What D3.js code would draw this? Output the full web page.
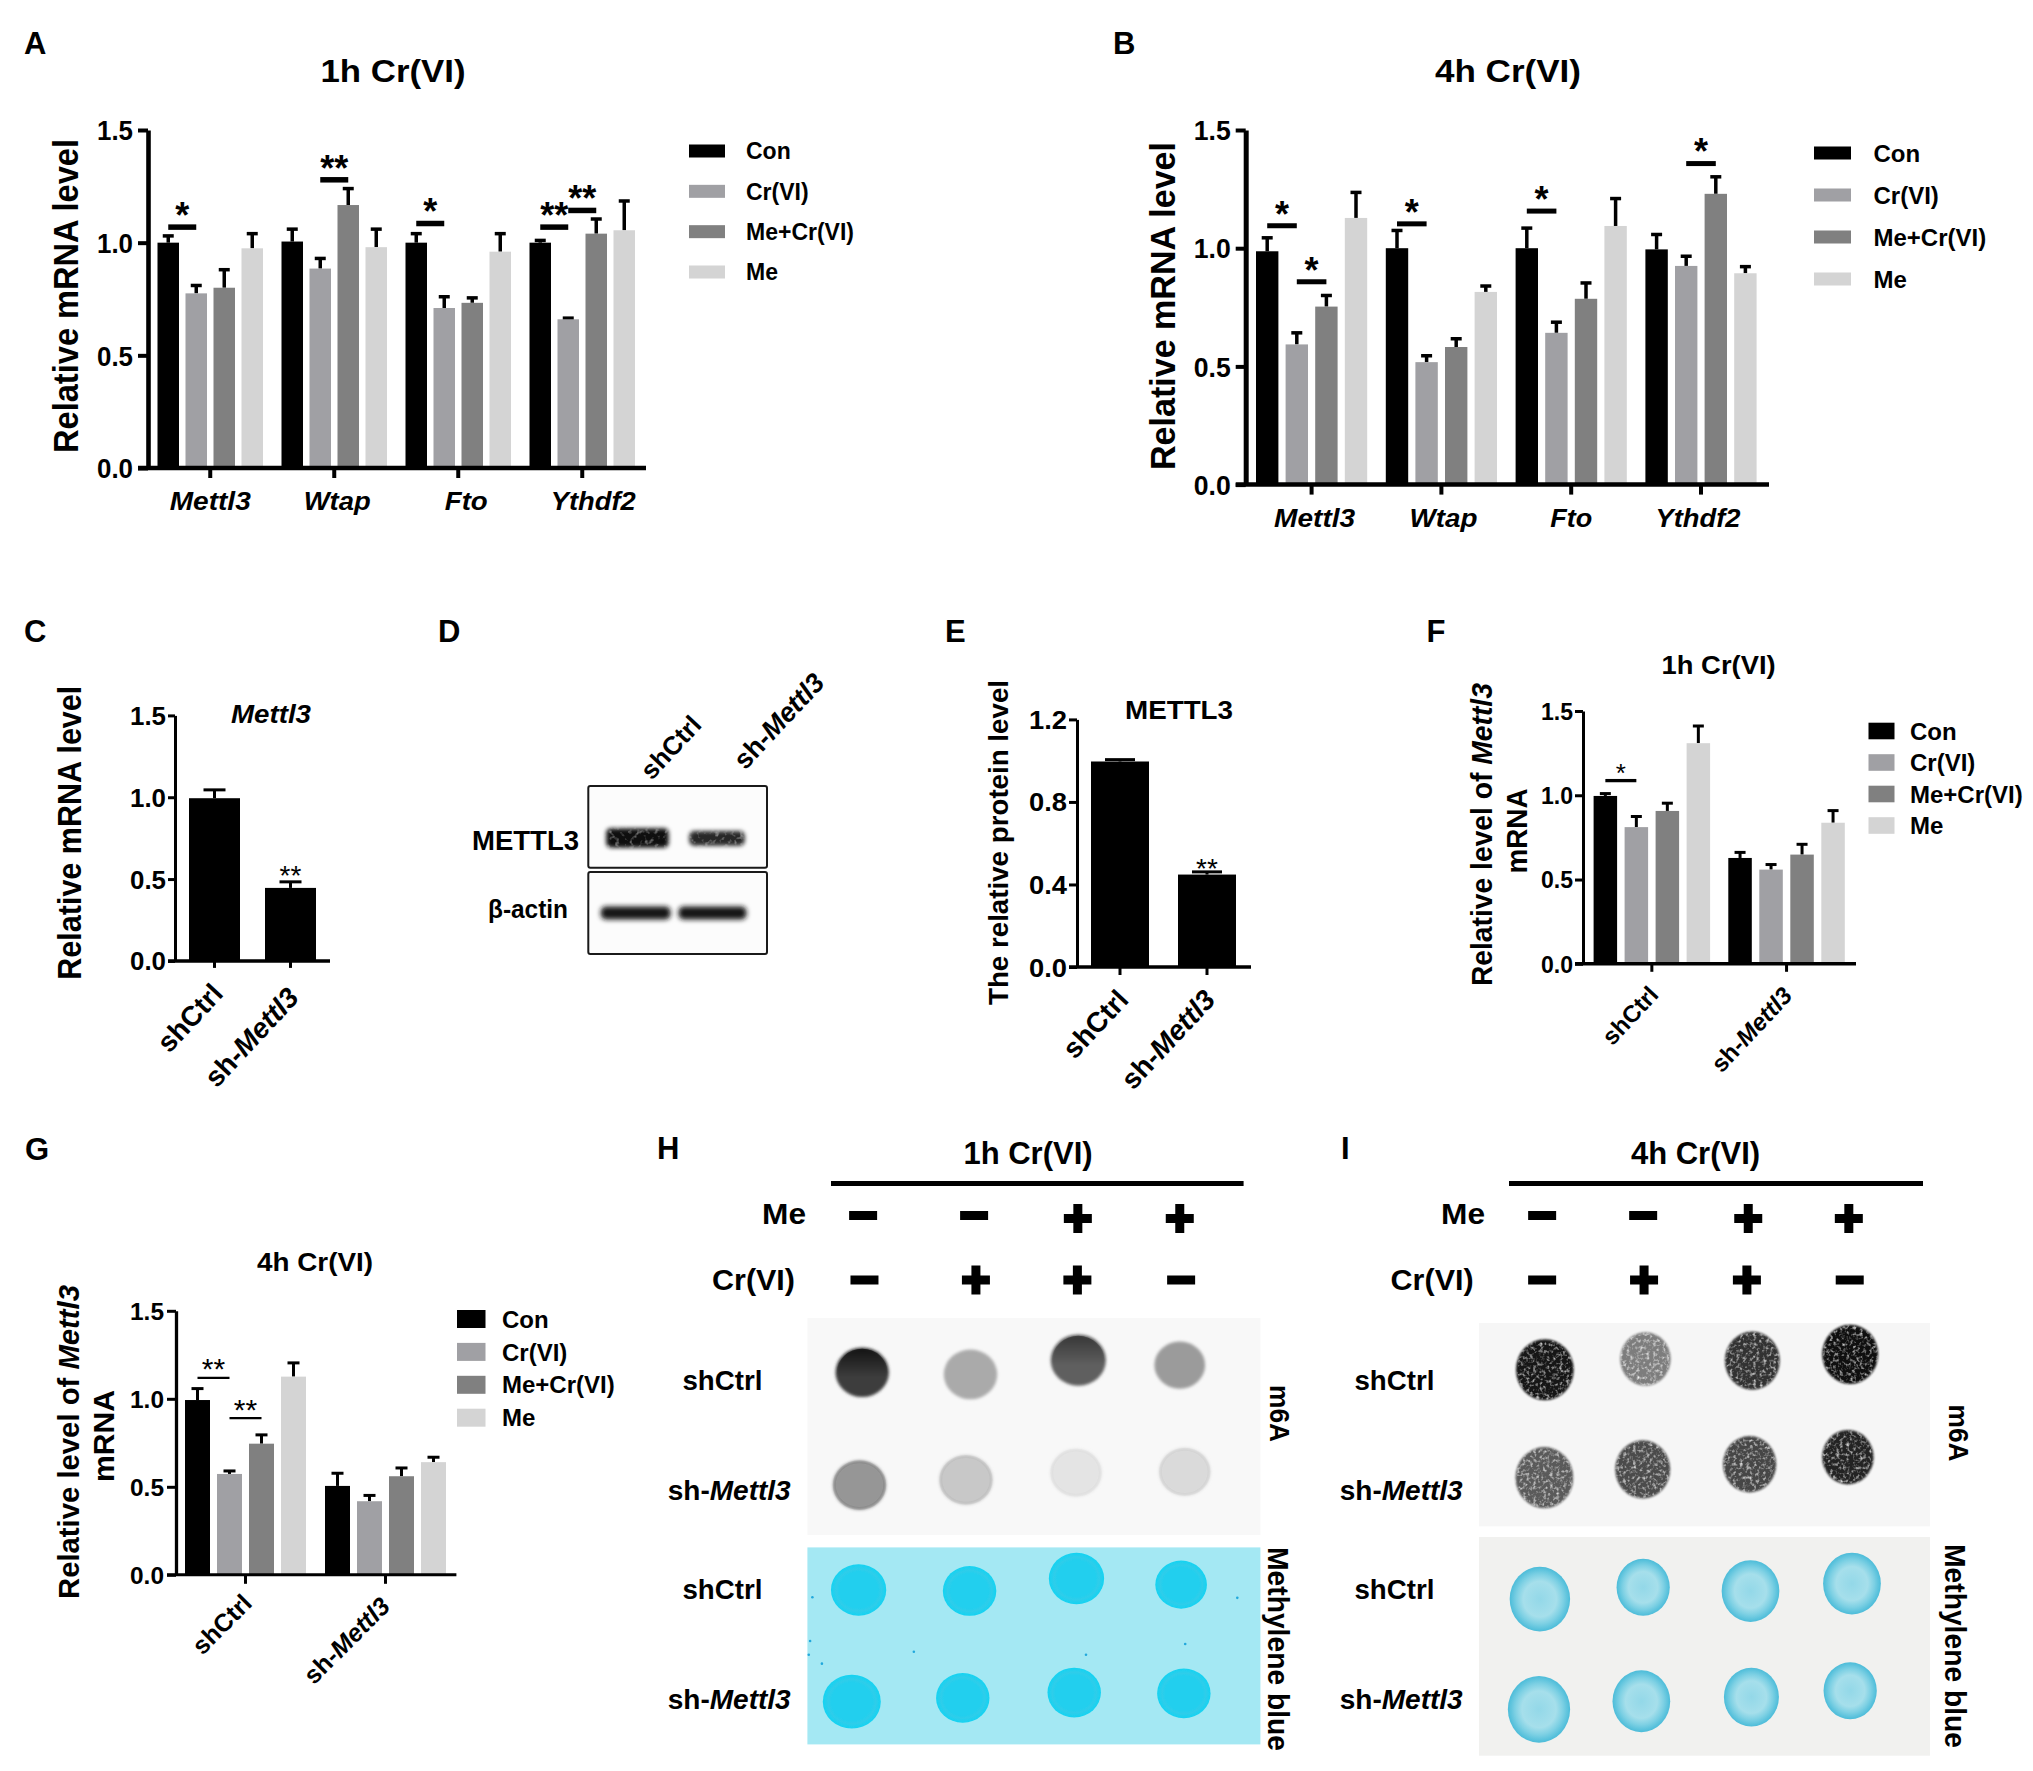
<!DOCTYPE html>
<html>
<head>
<meta charset="utf-8">
<style>
  body { margin: 0; background: #fff; }
  svg text { font-family: "Liberation Sans", Arial, sans-serif; font-weight: bold; fill: #000; }
</style>
<script src="https://cdn.jsdelivr.net/npm/d3@7"></script>
</head>
<body>
<svg id="fig" width="2033" height="1771"></svg>
<script>
// ---- data ----
const genes = ['Mettl3', 'Wtap', 'Fto', 'Ythdf2']
const lines = ['shCtrl', 'sh-Mettl3']
const treatments = ['Con', 'Cr(VI)', 'Me+Cr(VI)', 'Me']
const treatmentColors = ['#000000', '#a0a0a4', '#808080', '#d4d4d4']

// means and top of the error bar, one row per group, in treatment order
const aMeans = [[1.0, 0.775, 0.80, 0.975], [1.005, 0.885, 1.167, 0.98], [1.0, 0.71, 0.733, 0.96], [1.0, 0.66, 1.04, 1.055]]
const aTops = [[1.03, 0.81, 0.88, 1.04], [1.06, 0.93, 1.24, 1.06], [1.04, 0.76, 0.755, 1.04], [1.01, 0.665, 1.105, 1.185]]
const bMeans = [[0.987, 0.593, 0.753, 1.128], [1.0, 0.518, 0.582, 0.815], [1.0, 0.642, 0.786, 1.094], [0.995, 0.925, 1.23, 0.894]]
const bTops = [[1.044, 0.642, 0.80, 1.236], [1.075, 0.545, 0.617, 0.84], [1.085, 0.687, 0.853, 1.21], [1.058, 0.966, 1.302, 0.922]]
const cMeans = [[0.994], [0.446]]
const cTops = [[1.045], [0.483]]
const eMeans = [[0.996], [0.448]]
const eTops = [[1.005], [0.461]]
const fMeans = [[0.996, 0.811, 0.907, 1.309], [0.628, 0.559, 0.648, 0.837]]
const fTops = [[1.01, 0.874, 0.953, 1.411], [0.661, 0.589, 0.709, 0.909]]
const gMeans = [[0.993, 0.573, 0.745, 1.126], [0.505, 0.418, 0.56, 0.64]]
const gTops = [[1.058, 0.59, 0.795, 1.204], [0.577, 0.451, 0.607, 0.668]]

// significance marks: group, first bar, last bar, height in axis units
const aSig = [[0, 0, 1, 1.069, '*'], [1, 1, 2, 1.279, '**'], [2, 0, 1, 1.085, '*'], [3, 0, 1, 1.069, '**'], [3, 1, 2, 1.143, '**']]
const bSig = [[0, 0, 1, 1.095, '*'], [0, 1, 2, 0.858, '*'], [1, 0, 1, 1.103, '*'], [2, 0, 1, 1.157, '*'], [3, 1, 2, 1.358, '*']]
const fSig = [[0, 0, 1, 1.087, '*']]
const gSig = [[0, 0, 1, 1.119, '**'], [0, 1, 2, 0.89, '**']]
const cStars = [[1, 0, 0, 0.543, '**']]
const eStars = [[1, 0, 0, 0.509, '**']]

// dot blots: spot centre and radius in percent of the membrane, intensity as grey level
const hM6aX = [12.1, 36.0, 59.8, 82.2, 11.5, 35.0, 59.3, 83.3]
const hM6aY = [25, 26, 19.4, 21.7, 77, 74.6, 71.3, 70.9]
const hM6aR = [5.9, 5.9, 6.1, 5.6, 5.9, 5.9, 5.7, 5.7]
const hM6aGrey = [60, 170, 95, 155, 150, 200, 228, 218]
const hBlueX = [11.3, 35.8, 59.4, 82.5, 9.8, 34.3, 58.9, 83.1]
const hBlueY = [21.6, 22.1, 15.8, 18.9, 78.3, 76.4, 73.7, 74.1]
const hBlueR = [6.1, 5.9, 6.1, 5.7, 6.4, 5.9, 5.9, 5.9]
const hSpeckX = [1.1, 94.9, 83.4, 0.6, 0.3, 23.5, 61.5, 3.2]
const hSpeckY = [25.3, 25.6, 49, 47.5, 54.5, 53, 54.5, 59]
const iM6aX = [14.6, 36.9, 60.6, 82.3, 14.5, 36.3, 60, 81.8]
const iM6aY = [23, 17.7, 18.5, 15.4, 76.1, 72, 69.5, 66]
const iM6aR = [6.4, 5.6, 6.1, 6.2, 6.4, 6.1, 5.9, 5.7]
const iM6aGrey = [22, 125, 50, 15, 90, 75, 70, 35]
const iBlueX = [13.5, 36.4, 60.2, 82.7, 13.3, 36.0, 60.4, 82.3]
const iBlueY = [28.4, 23, 24.7, 21.3, 78.8, 75.1, 73.2, 70.3]
const iBlueR = [6.7, 5.9, 6.4, 6.4, 6.9, 6.4, 6.1, 5.9]
const meSigns = ['-', '-', '+', '+']
const crSigns = ['-', '+', '+', '-']
const hMeLanes = [12.3, 36.8, 59.7, 82.2]
const hCrLanes = [12.6, 37.2, 59.6, 82.5]
const iMeLanes = [14, 36.4, 59.7, 82]
const iCrLanes = [14, 36.6, 59.4, 82.2]

// western blot bands: left, right, centre and height in percent of the frame
const wbLeft = [[10, 56.5], [7, 50.5]]
const wbRight = [[45, 87.5], [46, 88.5]]
const wbMid = [[63.6, 64], [50, 50]]
const wbHeight = [[24, 18], [16, 16]]
const wbGrey = [[15, 40], [25, 25]]

// ---- helpers ----
const svg = d3.select('#fig')

const defs = svg.append('defs')
defs.append('filter').attr('id', 'soft').attr('x', '-20%').attr('y', '-20%').attr('width', '140%').attr('height', '140%')
  .append('feGaussianBlur').attr('stdDeviation', 1.6)
defs.append('filter').attr('id', 'edge').attr('x', '-10%').attr('y', '-10%').attr('width', '120%').attr('height', '120%')
  .append('feGaussianBlur').attr('stdDeviation', 0.7)
defs.append('filter').attr('id', 'bandBlur').attr('x', '-20%').attr('y', '-80%').attr('width', '140%').attr('height', '260%')
  .append('feGaussianBlur').attr('stdDeviation', 2.4)

// speckle on top of a shape: noise spots clipped to the shape, then a slight blur
function grainFilter (id, freq, slope, offset, seed, blur, spill) {
  const f = defs.append('filter').attr('id', id).attr('color-interpolation-filters', 'sRGB')
    .attr('x', '-10%').attr('y', spill).attr('width', '120%').attr('height', '200%')
  f.append('feTurbulence').attr('type', 'fractalNoise').attr('baseFrequency', freq).attr('numOctaves', 2).attr('seed', seed).attr('result', 'noise')
  f.append('feColorMatrix').attr('in', 'noise').attr('type', 'matrix')
    .attr('values', `0 0 0 0 1  0 0 0 0 1  0 0 0 0 1  ${slope} 0 0 0 ${offset}`).attr('result', 'spots')
  f.append('feGaussianBlur').attr('in', 'SourceGraphic').attr('stdDeviation', blur).attr('result', 'shape')
  f.append('feComposite').attr('in', 'spots').attr('in2', 'shape').attr('operator', 'in').attr('result', 'clipped')
  const merge = f.append('feMerge').attr('result', 'merged')
  merge.append('feMergeNode').attr('in', 'shape')
  merge.append('feMergeNode').attr('in', 'clipped')
  f.append('feGaussianBlur').attr('in', 'merged').attr('stdDeviation', 0.6)
}
grainFilter('grain', 0.3, 2.0, -0.95, 4, 1.0, '-10%')
grainFilter('wbGrain', 0.2, 1.6, -0.85, 7, 2.2, '-50%')

// 1h methylene spots are nearly flat, 4h spots are a pale disc with a darker rim
const hBlueFill = defs.append('radialGradient').attr('id', 'hBlueFill')
hBlueFill.append('stop').attr('offset', '0%').attr('stop-color', '#22cfee')
hBlueFill.append('stop').attr('offset', '70%').attr('stop-color', '#22cfee')
hBlueFill.append('stop').attr('offset', '82%').attr('stop-color', '#2fcdea')
hBlueFill.append('stop').attr('offset', '100%').attr('stop-color', '#14d3f2')
const iBlueFill = defs.append('radialGradient').attr('id', 'iBlueFill')
iBlueFill.append('stop').attr('offset', '0%').attr('stop-color', '#93d8e8')
iBlueFill.append('stop').attr('offset', '55%').attr('stop-color', '#a6dfeb')
iBlueFill.append('stop').attr('offset', '76%').attr('stop-color', '#7fd1e4')
iBlueFill.append('stop').attr('offset', '100%').attr('stop-color', '#4cbcd9')
// darker cap on the 1h m6A spots
const capShade = defs.append('linearGradient').attr('id', 'capShade').attr('x1', 0).attr('y1', 0).attr('x2', 0).attr('y2', 1)
capShade.append('stop').attr('offset', '0%').attr('stop-color', '#000').attr('stop-opacity', 0.75)
capShade.append('stop').attr('offset', '60%').attr('stop-color', '#000').attr('stop-opacity', 0)

// gene names stay italic inside a label
function richText (sel, str) {
  sel.text(null)
  str.split(/(Mettl3|Wtap|Fto|Ythdf2)/).filter(s => s !== '').forEach(part => {
    const span = sel.append('tspan').text(part)
    if (/^(Mettl3|Wtap|Fto|Ythdf2)$/.test(part)) span.style('font-style', 'italic')
  })
  return sel
}

function label (parent, str, x, y, size, opts = {}) {
  const t = parent.append('text')
    .attr('font-size', size)
    .attr('text-anchor', opts.anchor || 'middle')
    .attr('transform', `translate(${x},${y}) rotate(${opts.rotate || 0})`)
  richText(t, str)
  if (opts.len) t.attr('textLength', opts.len).attr('lengthAdjust', 'spacingAndGlyphs')
  return t
}

function panelLetter (str, x, y) {
  label(svg, str, x, y, 31, { anchor: 'start' })
}

function barPanel (p) {
  const g = svg.append('g')
  const n = p.series.length
  const gap = p.barStep - p.barW
  const groupW = n * p.barStep - gap

  const y = d3.scaleLinear().domain([0, p.yMax]).range([p.y0, p.y1])
  const x = d3.scaleBand().domain(p.groups)
    .range([p.left, p.left + p.groups.length * p.groupStep - (p.groupStep - groupW)])
    .paddingInner((p.groupStep - groupW) / p.groupStep)
  const inner = d3.scaleBand().domain(d3.range(n))
    .range([0, groupW]).paddingInner(gap / p.barStep)

  // bars and upper error bars
  const groups = g.selectAll('g.group').data(p.groups).join('g')
    .attr('class', 'group')
    .attr('transform', d => `translate(${x(d)},0)`)
  groups.each(function (name, gi) {
    const bars = d3.select(this).selectAll('g.bar').data(d3.range(n)).join('g').attr('class', 'bar')
    bars.append('line')
      .attr('x1', i => inner(i) + inner.bandwidth() / 2)
      .attr('x2', i => inner(i) + inner.bandwidth() / 2)
      .attr('y1', i => y(p.means[gi][i]))
      .attr('y2', i => y(p.tops[gi][i]))
      .attr('stroke', '#000').attr('stroke-width', p.errW)
    bars.append('line')
      .attr('x1', i => inner(i) + inner.bandwidth() / 2 - p.capW / 2)
      .attr('x2', i => inner(i) + inner.bandwidth() / 2 + p.capW / 2)
      .attr('y1', i => y(p.tops[gi][i]))
      .attr('y2', i => y(p.tops[gi][i]))
      .attr('stroke', '#000').attr('stroke-width', p.errW)
    bars.append('rect')
      .attr('x', i => inner(i))
      .attr('width', inner.bandwidth())
      .attr('y', i => y(p.means[gi][i]))
      .attr('height', i => p.y0 - y(p.means[gi][i]))
      .attr('fill', i => p.colors[i])
  })

  // axes
  const yAxis = d3.axisLeft(y).tickValues(p.yTicks).tickFormat(d3.format('.1f'))
    .tickSizeInner(p.tick).tickSizeOuter(0)
  const yg = g.append('g').attr('transform', `translate(${p.axisX},0)`).call(yAxis)
  yg.select('.domain').attr('stroke', '#000').attr('stroke-width', p.axisW)
  yg.selectAll('.tick line').attr('stroke', '#000').attr('stroke-width', p.tickW)
  yg.selectAll('.tick text').attr('font-size', p.tickSize).attr('x', -p.tick - p.tickPad).attr('dy', '0.36em')
    .attr('textLength', p.tickLen).attr('lengthAdjust', 'spacingAndGlyphs')

  const xAxis = d3.axisBottom(x).tickSizeInner(p.tick).tickSizeOuter(0)
  const xg = g.append('g').attr('transform', `translate(0,${p.y0})`).call(xAxis)
  xg.select('.domain').remove()
  xg.append('line').attr('x1', p.axisX - p.tick).attr('x2', p.right)
    .attr('stroke', '#000').attr('stroke-width', p.baseW)
  xg.selectAll('.tick line').attr('stroke', '#000').attr('stroke-width', p.tickW)
  xg.selectAll('.tick text').attr('y', 0).attr('dy', 0)
    .attr('font-size', p.catSize)
    .each(function (d, i) {
      const t = d3.select(this)
      richText(t, d)
      t.attr('text-anchor', p.catRotate ? 'end' : 'middle')
        .attr('transform', `translate(${p.catDx[i]},${p.catDy[i]}) rotate(${p.catRotate || 0})`)
      if (p.catLen) t.attr('textLength', p.catLen[i]).attr('lengthAdjust', 'spacingAndGlyphs')
    })

  // significance lines and stars
  p.sig.forEach(([gi, from, to, v, stars]) => {
    const ax = x(p.groups[gi]) + inner(from) + inner.bandwidth() / 2
    const bx = x(p.groups[gi]) + inner(to) + inner.bandwidth() / 2
    if (from !== to) {
      g.append('line').attr('x1', ax).attr('x2', bx).attr('y1', y(v)).attr('y2', y(v))
        .attr('stroke', '#000').attr('stroke-width', p.sigW)
    }
    g.append('text').attr('x', (ax + bx) / 2).attr('y', y(v) - p.starGap + 0.58 * p.starSize)
      .attr('text-anchor', 'middle').attr('font-size', p.starSize)
      .style('font-weight', p.starWeight || 'bold').text(stars)
  })

  // legend
  if (p.legend) {
    const lg = g.append('g')
    const ly = d3.scalePoint().domain(p.series).range([p.legend.top, p.legend.bottom])
    p.series.forEach((s, i) => {
      lg.append('rect').attr('x', p.legend.x).attr('y', ly(s) - p.legend.h / 2)
        .attr('width', p.legend.w).attr('height', p.legend.h).attr('fill', p.colors[i])
      lg.append('text').attr('x', p.legend.textX).attr('y', ly(s) + p.legend.size * 0.36)
        .attr('font-size', p.legend.size).text(s)
    })
  }

  p.yLabels.forEach(l => label(g, l.text, l.x, l.y, l.size, { rotate: -90, len: l.len }))
  if (p.title) label(g, p.title.text, p.title.x, p.title.y, p.title.size, { len: p.title.len })
}

function signMark (parent, kind, x, y) {
  parent.append('rect').attr('x', x - 14).attr('y', y - 4.5).attr('width', 28).attr('height', 9).attr('fill', '#000')
  if (kind === '+') {
    parent.append('rect').attr('x', x - 4.5).attr('y', y - 14.5).attr('width', 9).attr('height', 29).attr('fill', '#000')
  }
}

function dotBlot (b) {
  const g = svg.append('g')
  label(g, b.title, b.titleX, 1164.4, 31)
  g.append('line').attr('x1', b.lineX[0]).attr('x2', b.lineX[1]).attr('y1', 1183.5).attr('y2', 1183.5)
    .attr('stroke', '#000').attr('stroke-width', 5)
  label(g, 'Me', b.meX, 1223.7, 29, { anchor: 'end', len: 44 })
  label(g, 'Cr(VI)', b.crX, 1289.5, 29, { anchor: 'end', len: 83 })

  const laneX = d3.scaleLinear().domain([0, 100]).range([b.x, b.x + b.w])
  const rx = r => laneX(r) - b.x
  meSigns.forEach((s, i) => signMark(g, s, laneX(b.meLanes[i]), s === '+' ? 1218.5 : 1215.5))
  crSigns.forEach((s, i) => signMark(g, s, laneX(b.crLanes[i]), 1280))

  // m6A membrane
  const my = d3.scaleLinear().domain([0, 100]).range([b.m.y, b.m.y + b.m.h])
  g.append('rect').attr('x', b.x).attr('y', b.m.y).attr('width', b.w).attr('height', b.m.h).attr('fill', b.m.fill)
  g.selectAll(null).data(d3.range(8)).join('ellipse').attr('class', 'm6a')
    .attr('cx', i => laneX(b.m.xs[i])).attr('cy', i => my(b.m.ys[i]))
    .attr('rx', i => rx(b.m.rs[i])).attr('ry', i => rx(b.m.rs[i]) * b.m.ratio)
    .attr('fill', i => d3.rgb(b.m.grey[i], b.m.grey[i], b.m.grey[i]))
    .attr('filter', b.m.filter)
  if (b.m.shaded) {
    // only the darkest top spots have a cap, the lower row has a faint rim
    g.selectAll(null).data(d3.range(8)).join('ellipse').attr('class', 'm6a-shade')
      .attr('cx', i => laneX(b.m.xs[i])).attr('cy', i => my(b.m.ys[i]))
      .attr('rx', i => rx(b.m.rs[i]) - 1.5).attr('ry', i => (rx(b.m.rs[i]) - 1.5) * b.m.ratio)
      .attr('fill', i => i < 4 ? 'url(#capShade)' : 'none')
      .attr('stroke', '#000').attr('stroke-opacity', i => i < 4 ? 0 : 0.14).attr('stroke-width', 3)
      .attr('opacity', i => i < 4 ? Math.max(0, (150 - b.m.grey[i]) / 100) : (255 - b.m.grey[i]) / 170)
      .attr('filter', 'url(#edge)')
  }

  // methylene blue membrane
  const by = d3.scaleLinear().domain([0, 100]).range([b.blue.y, b.blue.y + b.blue.h])
  g.append('rect').attr('x', b.x).attr('y', b.blue.y).attr('width', b.w).attr('height', b.blue.h).attr('fill', b.blue.fill)
  g.selectAll(null).data(d3.range(8)).join('ellipse').attr('class', 'blue')
    .attr('cx', i => laneX(b.blue.xs[i])).attr('cy', i => by(b.blue.ys[i]))
    .attr('rx', i => rx(b.blue.rs[i])).attr('ry', i => rx(b.blue.rs[i]) * b.blue.ratio)
    .attr('fill', b.blue.spot)
    .attr('filter', 'url(#edge)')
  if (b.blue.speckX) {
    g.selectAll(null).data(b.blue.speckX).join('circle').attr('class', 'speck')
      .attr('cx', d => laneX(d)).attr('cy', (d, i) => by(b.blue.speckY[i]))
      .attr('r', 1.3).attr('fill', '#22a8dc')
  }

  b.rowLabels.forEach(([s, y]) => label(g, s, s === 'shCtrl' ? b.ctrlX : b.shX, y, 27, { anchor: 'start', len: s === 'shCtrl' ? 80 : 123 }))
  label(g, 'm6A', b.m6aX, b.m6aY, 28, { rotate: 90, len: 57 })
  label(g, 'Methylene blue', b.sideX, b.blueY, 29, { rotate: 90, len: 204 })
}

// ---- panels ----
panelLetter('A', 24, 54)
barPanel({
  groups: genes, series: treatments, colors: treatmentColors, means: aMeans, tops: aTops, sig: aSig,
  yMax: 1.5, yTicks: [0, 0.5, 1, 1.5], y0: 468, y1: 130, axisX: 148, right: 646,
  left: 157.5, barW: 21.5, barStep: 28, groupStep: 124,
  axisW: 4.6, baseW: 4.5, tick: 10, tickW: 4, tickPad: 5, tickSize: 27, tickLen: 36, errW: 3.5, capW: 11,
  catSize: 26, catDx: [0, 3, 8, 11], catDy: [42, 42, 42, 42], catLen: [81, 67, 43, 85],
  sigW: 5.5, starSize: 36, starGap: 20,
  legend: { x: 689, w: 36, h: 13, textX: 746, size: 23, top: 151, bottom: 272 },
  yLabels: [{ text: 'Relative mRNA level', x: 78, y: 296, size: 35, len: 314 }],
  title: { text: '1h Cr(VI)', x: 393, y: 82, size: 31, len: 145 }
})

panelLetter('B', 1113, 54)
barPanel({
  groups: genes, series: treatments, colors: treatmentColors, means: bMeans, tops: bTops, sig: bSig,
  yMax: 1.5, yTicks: [0, 0.5, 1, 1.5], y0: 484.6, y1: 130, axisX: 1245.7, right: 1769,
  left: 1256, barW: 22.4, barStep: 29.6, groupStep: 129.8,
  axisW: 5, baseW: 4.5, tick: 10, tickW: 4, tickPad: 5, tickSize: 27, tickLen: 37, errW: 3.5, capW: 11,
  catSize: 26, catDx: [3, 2, 0, -3], catDy: [42, 42, 42, 42], catLen: [81, 68, 42, 85],
  sigW: 5, starSize: 36, starGap: 20,
  legend: { x: 1814, w: 37, h: 13, textX: 1873.5, size: 24, top: 153, bottom: 279 },
  yLabels: [{ text: 'Relative mRNA level', x: 1175, y: 306, size: 35, len: 328 }],
  title: { text: '4h Cr(VI)', x: 1508, y: 82, size: 31, len: 146 }
})

panelLetter('C', 24, 641.5)
barPanel({
  groups: lines, series: ['Con'], colors: ['#000000'], means: cMeans, tops: cTops, sig: cStars,
  yMax: 1.5, yTicks: [0, 0.5, 1, 1.5], y0: 960.9, y1: 715.4, axisX: 175, right: 330,
  left: 189, barW: 51, barStep: 51, groupStep: 76,
  axisW: 3, baseW: 3.5, tick: 7, tickW: 3, tickPad: 2, tickSize: 25, tickLen: 36, errW: 3, capW: 22,
  catSize: 28, catDx: [10, 10], catDy: [34, 38], catRotate: -47,
  sigW: 0, starSize: 28, starGap: 3, starWeight: 'normal',
  yLabels: [{ text: 'Relative mRNA level', x: 81, y: 832.7, size: 33, len: 294 }],
  title: { text: 'Mettl3', x: 271, y: 722.7, size: 25, len: 80 }
})

panelLetter('D', 438, 641.5)
// western blot
const wbFrames = [[588.3, 786, 178.7, 81.7], [588.3, 872, 178.7, 82]]
wbFrames.forEach((f, fi) => {
  const g = svg.append('g')
  const bx = d3.scaleLinear().domain([0, 100]).range([f[0], f[0] + f[2]])
  const by = d3.scaleLinear().domain([0, 100]).range([f[1], f[1] + f[3]])
  g.append('rect').attr('x', f[0]).attr('y', f[1]).attr('width', f[2]).attr('height', f[3]).attr('rx', 2)
    .attr('fill', '#fcfcfc').attr('stroke', '#1a1a1a').attr('stroke-width', 2)
  wbLeft[fi].forEach((l, i) => {
    g.append('rect').attr('x', bx(l)).attr('width', bx(wbRight[fi][i]) - bx(l))
      .attr('y', by(wbMid[fi][i] - wbHeight[fi][i] / 2))
      .attr('height', by(wbHeight[fi][i]) - f[1]).attr('rx', 5)
      .attr('fill', d3.rgb(wbGrey[fi][i], wbGrey[fi][i], wbGrey[fi][i]))
      .attr('filter', fi === 0 ? 'url(#wbGrain)' : 'url(#bandBlur)')
  })
})
label(svg, 'METTL3', 579, 850, 27, { anchor: 'end', len: 107 })
label(svg, 'β-actin', 568, 918, 25, { anchor: 'end', len: 80 })
label(svg, 'shCtrl', 703, 726, 26, { anchor: 'end', rotate: -47 })
label(svg, 'sh-Mettl3', 826, 684, 27, { anchor: 'end', rotate: -47 })

panelLetter('E', 945, 641.5)
barPanel({
  groups: lines, series: ['Con'], colors: ['#000000'], means: eMeans, tops: eTops, sig: eStars,
  yMax: 1.2, yTicks: [0, 0.4, 0.8, 1.2], y0: 967, y1: 719.4, axisX: 1077, right: 1251,
  left: 1091, barW: 58, barStep: 58, groupStep: 87,
  axisW: 3, baseW: 3.5, tick: 8, tickW: 3, tickPad: 2, tickSize: 25, tickLen: 38, errW: 3, capW: 30,
  catSize: 28, catDx: [10, 10], catDy: [34, 34], catRotate: -47,
  sigW: 0, starSize: 28, starGap: 0, starWeight: 'normal',
  yLabels: [{ text: 'The relative protein level', x: 1008, y: 842.5, size: 27, len: 325 }],
  title: { text: 'METTL3', x: 1179, y: 718.7, size: 26, len: 108 }
})

panelLetter('F', 1426.5, 641.5)
barPanel({
  groups: lines, series: treatments, colors: treatmentColors, means: fMeans, tops: fTops, sig: fSig,
  yMax: 1.5, yTicks: [0, 0.5, 1, 1.5], y0: 963.8, y1: 711, axisX: 1583, right: 1856,
  left: 1593.6, barW: 23.5, barStep: 31, groupStep: 134.7,
  axisW: 3, baseW: 3.5, tick: 8, tickW: 3, tickPad: 2, tickSize: 23, tickLen: 32, errW: 3, capW: 11,
  catSize: 24, catDx: [8, 7], catDy: [32, 33], catRotate: -47,
  sigW: 3.3, starSize: 26, starGap: 14,
  starWeight: 'normal',
  legend: { x: 1868.5, w: 26, h: 16.6, textX: 1910, size: 24, top: 731, bottom: 825.5 },
  yLabels: [
    { text: 'Relative level of Mettl3', x: 1492, y: 834.6, size: 30, len: 303 },
    { text: 'mRNA', x: 1527, y: 831, size: 30, len: 85 }
  ],
  title: { text: '1h Cr(VI)', x: 1718.6, y: 673.6, size: 25, len: 114 }
})

panelLetter('G', 25, 1159.5)
barPanel({
  groups: lines, series: treatments, colors: treatmentColors, means: gMeans, tops: gTops, sig: gSig,
  yMax: 1.5, yTicks: [0, 0.5, 1, 1.5], y0: 1574.8, y1: 1310.8, axisX: 176, right: 456.4,
  left: 185, barW: 25, barStep: 32, groupStep: 140,
  axisW: 3.3, baseW: 3, tick: 9, tickW: 3, tickPad: 3, tickSize: 24, tickLen: 34, errW: 3, capW: 12,
  catSize: 25, catDx: [8, 6], catDy: [30, 33], catRotate: -45,
  sigW: 2.3, starSize: 30, starGap: 16, starWeight: 'normal',
  legend: { x: 457, w: 28.5, h: 18, textX: 502, size: 24, top: 1319, bottom: 1417.7 },
  yLabels: [
    { text: 'Relative level of Mettl3', x: 79, y: 1442, size: 29, len: 314 },
    { text: 'mRNA', x: 114, y: 1436, size: 29, len: 92 }
  ],
  title: { text: '4h Cr(VI)', x: 315, y: 1271, size: 26, len: 116 }
})

panelLetter('H', 657, 1159)
dotBlot({
  title: '1h Cr(VI)', titleX: 1028, lineX: [831, 1243.6], meX: 806, crX: 795,
  x: 807.4, w: 453, meLanes: hMeLanes, crLanes: hCrLanes,
  m: { y: 1318, h: 217, fill: '#f8f8f8', xs: hM6aX, ys: hM6aY, rs: hM6aR, grey: hM6aGrey, ratio: 0.93, filter: 'url(#soft)', shaded: true },
  blue: { y: 1547.4, h: 197, fill: '#a4e8f3', xs: hBlueX, ys: hBlueY, rs: hBlueR, ratio: 0.93, spot: 'url(#hBlueFill)', speckX: hSpeckX, speckY: hSpeckY },
  rowLabels: [['shCtrl', 1389.7], ['sh-Mettl3', 1499.7], ['shCtrl', 1599], ['sh-Mettl3', 1709]],
  ctrlX: 682.4, shX: 667.7, sideX: 1268, m6aX: 1270, m6aY: 1413.6, blueY: 1649
})

panelLetter('I', 1341, 1159)
dotBlot({
  title: '4h Cr(VI)', titleX: 1695.5, lineX: [1509, 1923], meX: 1485, crX: 1473.6,
  x: 1479, w: 451, meLanes: iMeLanes, crLanes: iCrLanes,
  m: { y: 1323, h: 203.3, fill: '#f6f6f6', xs: iM6aX, ys: iM6aY, rs: iM6aR, grey: iM6aGrey, ratio: 1.06, filter: 'url(#grain)' },
  blue: { y: 1537, h: 218.7, fill: '#f1f1ef', xs: iBlueX, ys: iBlueY, rs: iBlueR, ratio: 1.07, spot: 'url(#iBlueFill)' },
  rowLabels: [['shCtrl', 1389.7], ['sh-Mettl3', 1499.7], ['shCtrl', 1599], ['sh-Mettl3', 1709]],
  ctrlX: 1354.4, shX: 1339.7, sideX: 1945, m6aX: 1949, m6aY: 1433, blueY: 1646
})
</script>
</body>
</html>
